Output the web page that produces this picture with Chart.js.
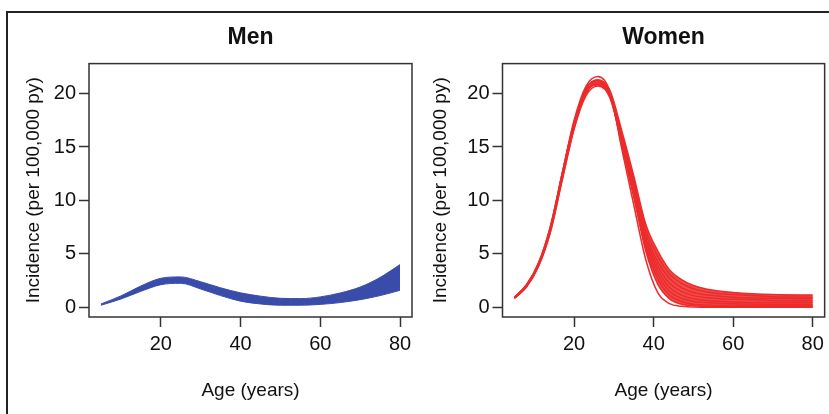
<!DOCTYPE html>
<html>
<head>
<meta charset="utf-8">
<script src="https://cdn.jsdelivr.net/npm/chart.js@4"></script>
<style>
    html, body { margin: 0; padding: 0; background: #fff; }
    body { width: 829px; height: 414px; position: relative; overflow: hidden; }
    #frame { position: absolute; left: 6px; top: 11px; width: 830px; height: 410px;
             border-top: 2px solid #222; border-left: 2px solid #222; }
    .wrap { position: absolute; top: 14px; height: 400px; }
    #menWrap { left: 0; width: 420px; }
    #womenWrap { left: 420px; width: 409px; }
</style>
</head>
<body>
<div id="frame"></div>
<div class="wrap" id="menWrap"><canvas id="menChart" width="420" height="400"></canvas></div>
<div class="wrap" id="womenWrap"><canvas id="womenChart" width="409" height="400"></canvas></div>
<script>
// axis ticks
const xTicks = [20, 40, 60, 80];
const yTicks = [0, 5, 10, 15, 20];

// Men: envelope of the simulated curves
const menAges = [5, 10, 15, 20, 25, 30, 35, 40, 45, 50, 55, 60, 65, 70, 75, 80];
const menLower = [0.2, 0.78, 1.5, 2.12, 2.25, 1.72, 1.1, 0.58, 0.32, 0.2, 0.2, 0.28, 0.45, 0.72, 1.1, 1.6];
const menUpper = [0.32, 1.07, 2.0, 2.72, 2.85, 2.4, 1.83, 1.36, 1.05, 0.85, 0.82, 0.98, 1.35, 1.9, 2.8, 4.0];

// Women: a handful of the simulated curves
const womenAges = [5, 8, 11, 14, 17, 20, 23, 26, 29, 32, 35, 38, 41, 44, 47, 50, 55, 60, 70, 80];
const womenCurve1 = [0.95, 2.1, 4.1, 7.5, 12.5, 17.3, 20.5, 21.3, 20.3, 16.5, 12.3, 7.8, 5.3, 3.5, 2.6, 2.05, 1.6, 1.4, 1.2, 1.15];
const womenCurve2 = [0.9, 2.0, 3.9, 7.2, 12.2, 17.0, 20.2, 21.1, 20.1, 16.2, 11.9, 7.3, 4.8, 3.1, 2.25, 1.75, 1.35, 1.2, 1.0, 0.95];
const womenCurve3 = [0.85, 1.9, 3.8, 7.0, 11.9, 16.7, 20.0, 21.0, 20.0, 16.0, 11.6, 6.9, 4.3, 2.7, 1.85, 1.4, 1.1, 0.95, 0.85, 0.8];
const womenCurve4 = [0.9, 2.0, 3.9, 7.2, 12.2, 17.0, 20.1, 20.9, 19.9, 15.8, 11.3, 6.6, 3.9, 2.25, 1.5, 1.1, 0.85, 0.75, 0.65, 0.62];
const womenCurve5 = [0.95, 2.1, 4.1, 7.5, 12.5, 17.3, 20.2, 20.8, 19.7, 15.6, 11.0, 6.3, 3.5, 1.85, 1.15, 0.8, 0.6, 0.5, 0.45, 0.45];
const womenCurve6 = [0.85, 1.9, 3.8, 7.0, 11.9, 16.7, 19.8, 20.7, 19.6, 15.4, 10.8, 6.0, 3.1, 1.5, 0.85, 0.55, 0.4, 0.33, 0.3, 0.3];
const womenCurve7 = [0.9, 2.0, 3.9, 7.2, 12.2, 17.0, 20.1, 20.9, 19.8, 15.3, 10.6, 5.7, 2.7, 1.15, 0.55, 0.3, 0.2, 0.17, 0.15, 0.15];
const womenCurve8 = [0.9, 2.0, 4.0, 7.3, 12.3, 17.2, 20.4, 21.2, 20.0, 15.1, 10.3, 5.3, 2.2, 0.8, 0.3, 0.15, 0.08, 0.06, 0.05, 0.05];
const womenCurve9 = [0.9, 2.0, 4.0, 7.4, 12.5, 17.5, 20.7, 21.6, 20.2, 14.8, 9.6, 4.5, 1.4, 0.35, 0.1, 0.04, 0.02, 0.02, 0.02, 0.02];
const womenCurves = [womenCurve1, womenCurve2, womenCurve3, womenCurve4, womenCurve5,
                     womenCurve6, womenCurve7, womenCurve8, womenCurve9];

const BLUE = '#3a4ca9';
const RED = '#ec2b2b';
const FONT = '"Liberation Sans", Arial, Helvetica, sans-serif';

const toPoints = (xs, ys) => xs.map((x, i) => ({ x: x, y: ys[i] }));

// closed box around the plot region, like R's box()
const boxPlugin = {
    id: 'box',
    afterDatasetsDraw(chart) {
        const { ctx, chartArea: a } = chart;
        ctx.save();
        ctx.strokeStyle = '#333';
        ctx.lineWidth = 1.5;
        ctx.strokeRect(a.left, a.top, a.right - a.left, a.bottom - a.top);
        ctx.restore();
    }
};

function makeChart(id, title, datasets, yWidth, yTitlePad, padRight) {
    const ctx = document.getElementById(id).getContext('2d');
    return new Chart(ctx, {
        type: 'line',
        data: { datasets: datasets },
        plugins: [boxPlugin],
        options: {
            responsive: false,
            animation: false,
            layout: { padding: { left: 0, right: padRight, top: 0, bottom: 0 } },
            plugins: {
                legend: { display: false },
                tooltip: { enabled: false },
                title: {
                    display: true,
                    text: title,
                    fullSize: false,
                    color: '#111',
                    font: { family: FONT, size: 23, weight: 'bold' },
                    padding: { top: 10, bottom: 12 }
                }
            },
            scales: {
                x: {
                    type: 'linear',
                    min: 2, max: 83,
                    afterBuildTicks: s => { s.ticks = xTicks.map(v => ({ value: v })); },
                    afterFit: s => { s.height = 97; },
                    grid: { drawOnChartArea: false, drawTicks: true, tickLength: 10, color: '#333', tickWidth: 1.5 },
                    border: { display: false },
                    ticks: { color: '#111', font: { family: FONT, size: 20 }, padding: 5, maxRotation: 0 },
                    title: { display: true, text: 'Age (years)', color: '#111',
                             font: { family: FONT, size: 19 }, padding: { top: 0, bottom: 12 } }
                },
                y: {
                    type: 'linear',
                    min: -0.9, max: 22.8,
                    afterBuildTicks: s => { s.ticks = yTicks.map(v => ({ value: v })); },
                    afterFit: s => { s.width = yWidth; },
                    grid: { drawOnChartArea: false, drawTicks: true, tickLength: 10, color: '#333', tickWidth: 1.5 },
                    border: { display: false },
                    ticks: { color: '#111', font: { family: FONT, size: 20 }, padding: 3 },
                    title: { display: true, text: 'Incidence (per 100,000 py)', color: '#111',
                             font: { family: FONT, size: 19 }, padding: { top: yTitlePad, bottom: 0 } }
                }
            },
            elements: { point: { radius: 0 } }
        }
    });
}

// 1. Men panel: band between lower and upper curves
makeChart('menChart', 'Men', [
    { data: toPoints(menAges, menLower), borderColor: BLUE, borderWidth: 1,
      fill: false, cubicInterpolationMode: 'monotone' },
    { data: toPoints(menAges, menUpper), borderColor: BLUE, borderWidth: 1,
      backgroundColor: BLUE, fill: '-1', cubicInterpolationMode: 'monotone' }
], 89, 22, 8);

// 2. Women panel: individual curves, dense area shaded
const womenSets = womenCurves.map((c, i) => ({
    data: toPoints(womenAges, c),
    borderColor: RED,
    borderWidth: 1.5,
    backgroundColor: 'rgba(236, 43, 43, 0.85)',
    fill: i === 0 ? 7 : false,
    cubicInterpolationMode: 'monotone'
}));
makeChart('womenChart', 'Women', womenSets, 82.5, 9, 4);
</script>
</body>
</html>
